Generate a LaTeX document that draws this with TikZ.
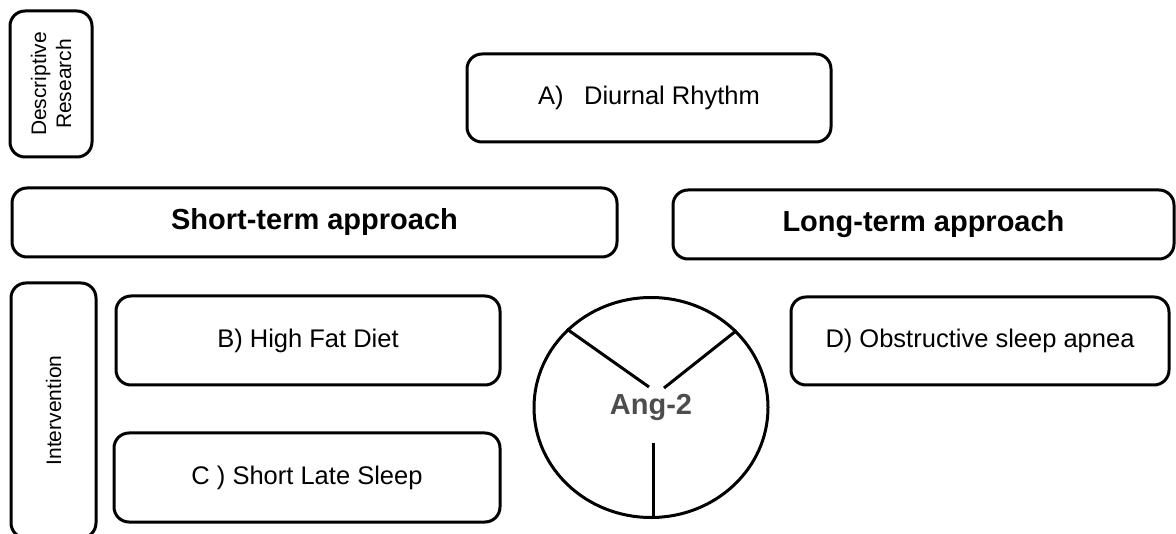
\documentclass[tikz,border=0pt]{standalone}
\usepackage{fontspec}
\setmainfont{Liberation Sans}
\usetikzlibrary{shapes.geometric}

\definecolor{anggray}{HTML}{4D4D4D}

\tikzset{
	box/.style={draw, line width=3pt, rounded corners=15pt, align=center, inner sep=0pt},
	headtext/.style={font=\fontsize{29}{34}\selectfont\bfseries},
	boxtext/.style={font=\fontsize{25.5}{30}\selectfont},
	sidetext/.style={font=\fontsize{21}{25}\selectfont},
	spoke/.style={line width=3pt}
}

\begin{document}
\begin{tikzpicture}[x=1pt,y=-1pt]
	
	\useasboundingbox (0,0) rectangle (1176,534);
	
	% Draw nodes, side labels
	\node[box,sidetext,rotate=90,minimum width=146pt,minimum height=82pt] (DR) at (51,84) {Descriptive\\Research};
	\node[box,sidetext,rotate=90,minimum width=255pt,minimum height=85pt] (IV) at (53.5,410.5) {Intervention};
	
	% Draw nodes, approaches
	\node[box,headtext,minimum width=605pt,minimum height=69pt] (ST) at (314.5,222.5) {Short-term approach};
	\node[box,headtext,minimum width=501pt,minimum height=69pt] (LT) at (923.5,224.5) {Long-term approach};
	
	% Draw nodes, models
	\node[box,boxtext,minimum width=364pt,minimum height=88pt] (A) at (649,98) {A)\hskip0.8em Diurnal Rhythm};
	\node[box,boxtext,minimum width=384pt,minimum height=89pt] (B) at (308,340.5) {B) High Fat Diet};
	\node[box,boxtext,minimum width=386pt,minimum height=89pt] (C) at (307,477.5) {C ) Short Late Sleep};
	\node[box,boxtext,minimum width=378pt,minimum height=88pt] (D) at (980,341) {D) Obstructive sleep apnea};
	
	% Draw the circle in the middle
	\node[ellipse,draw,line width=3pt,inner sep=0pt,minimum width=234pt,minimum height=220pt,headtext,text=anggray] (ANG) at (651,407.5) {Ang-2};
	\coordinate (yl) at (649,387);
	\coordinate (yr) at (664,388);
	\coordinate (yb) at (653,443);
	
	% Draw spokes
	\draw[spoke] (ANG.137) -- (yl);
	\draw[spoke] (ANG.42) -- (yr);
	\draw[spoke] (yb) -- (yb |- ANG.south);
	
\end{tikzpicture}
\end{document}
